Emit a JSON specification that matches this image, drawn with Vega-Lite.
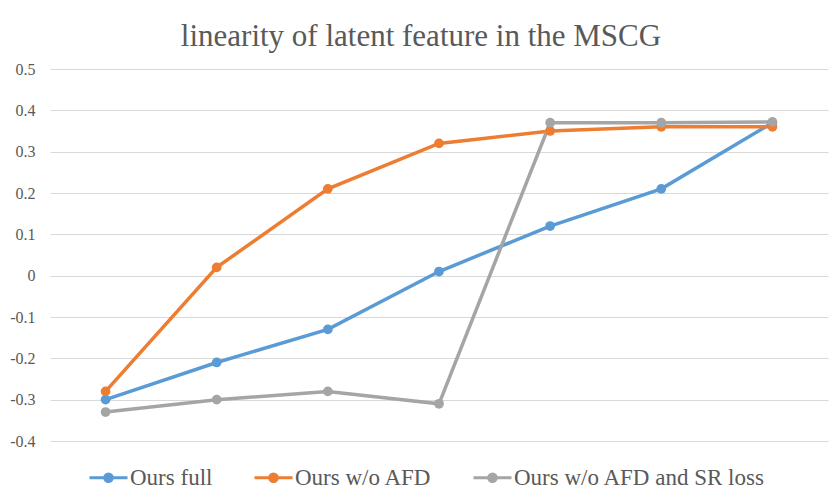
{
  "$schema": "https://vega.github.io/schema/vega-lite/v6.json",
  "width": 778,
  "height": 372,
  "autosize": "none",
  "padding": {"left": 50, "top": 69, "right": 2, "bottom": 61},
  "background": "white",
  "title": {
    "text": "linearity of latent feature in the MSCG",
    "font": "Times New Roman, Liberation Serif, serif",
    "fontSize": 31,
    "fontWeight": "normal",
    "color": "#595959",
    "anchor": "middle",
    "baseline": "alphabetic",
    "dx": -18,
    "offset": -16
  },
  "config": {
    "font": "Times New Roman, Liberation Serif, serif",
    "view": {"stroke": null}
  },
  "data": {
    "values": [
      {"x": 1, "series": "Ours full", "v": -0.30},
      {"x": 2, "series": "Ours full", "v": -0.21},
      {"x": 3, "series": "Ours full", "v": -0.13},
      {"x": 4, "series": "Ours full", "v": 0.01},
      {"x": 5, "series": "Ours full", "v": 0.12},
      {"x": 6, "series": "Ours full", "v": 0.21},
      {"x": 7, "series": "Ours full", "v": 0.37},
      {"x": 1, "series": "Ours w/o AFD", "v": -0.28},
      {"x": 2, "series": "Ours w/o AFD", "v": 0.02},
      {"x": 3, "series": "Ours w/o AFD", "v": 0.21},
      {"x": 4, "series": "Ours w/o AFD", "v": 0.32},
      {"x": 5, "series": "Ours w/o AFD", "v": 0.35},
      {"x": 6, "series": "Ours w/o AFD", "v": 0.36},
      {"x": 7, "series": "Ours w/o AFD", "v": 0.36},
      {"x": 1, "series": "Ours w/o AFD and SR loss", "v": -0.33},
      {"x": 2, "series": "Ours w/o AFD and SR loss", "v": -0.30},
      {"x": 3, "series": "Ours w/o AFD and SR loss", "v": -0.28},
      {"x": 4, "series": "Ours w/o AFD and SR loss", "v": -0.31},
      {"x": 5, "series": "Ours w/o AFD and SR loss", "v": 0.37},
      {"x": 6, "series": "Ours w/o AFD and SR loss", "v": 0.37},
      {"x": 7, "series": "Ours w/o AFD and SR loss", "v": 0.372}
    ]
  },
  "mark": {
    "type": "line",
    "strokeWidth": 3.5,
    "point": {"filled": true, "size": 95}
  },
  "encoding": {
    "x": {
      "field": "x",
      "type": "ordinal",
      "scale": {"type": "point", "padding": 0.5},
      "axis": null
    },
    "y": {
      "field": "v",
      "type": "quantitative",
      "scale": {"domain": [-0.4, 0.5], "nice": false, "zero": false},
      "axis": {
        "title": null,
        "values": [-0.4, -0.3, -0.2, -0.1, 0, 0.1, 0.2, 0.3, 0.4, 0.5],
        "labelExpr": "toString(datum.value)",
        "labelFont": "Times New Roman, Liberation Serif, serif",
        "labelFontSize": 16,
        "labelColor": "#595959",
        "labelPadding": 15,
        "ticks": false,
        "domain": false,
        "grid": true,
        "gridColor": "#D9D9D9",
        "gridWidth": 1.2
      }
    },
    "color": {
      "field": "series",
      "type": "nominal",
      "scale": {
        "domain": ["Ours full", "Ours w/o AFD", "Ours w/o AFD and SR loss"],
        "range": ["#5B9BD5", "#ED7D31", "#A5A5A5"]
      },
      "legend": {
        "title": null,
        "orient": "none",
        "legendX": 38,
        "legendY": 388,
        "direction": "horizontal",
        "labelFont": "Times New Roman, Liberation Serif, serif",
        "labelFontSize": 23,
        "labelColor": "#595959",
        "labelLimit": 400,
        "labelOffset": 1,
        "columnPadding": 35,
        "symbolType": "M-1,0H1M0.2,0A0.2,0.2 0 1,1 -0.2,0A0.2,0.2 0 1,1 0.2,0Z",
        "symbolSize": 1444,
        "symbolStrokeWidth": 3
      }
    }
  }
}
